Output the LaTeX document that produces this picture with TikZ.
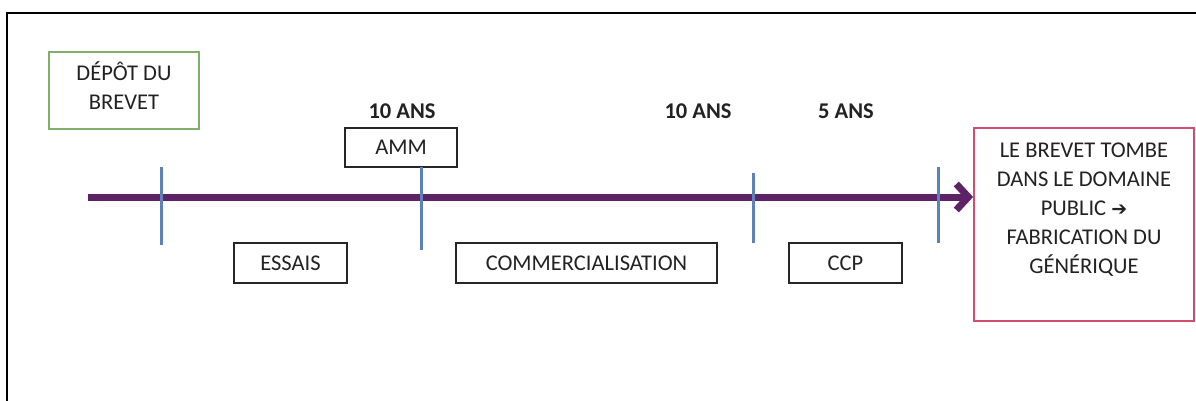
\documentclass[tikz,border=0pt]{standalone}
\usepackage{fontspec}
\setmainfont{Carlito}
\usetikzlibrary{arrows.meta}
\definecolor{purp}{HTML}{5E2266}
\definecolor{tickblue}{HTML}{5E82B8}
\definecolor{boxgreen}{HTML}{7FAF6A}
\definecolor{boxred}{HTML}{D24C6E}
\definecolor{txt}{HTML}{222222}
\begin{document}
\begin{tikzpicture}[x=1pt,y=-1pt,
  every node/.style={font=\fontsize{22.5}{29}\selectfont, text=txt},
  phase/.style={draw=black!85, line width=1.8pt, minimum height=40pt, inner sep=0pt},
  dur/.style={font=\fontsize{22.5}{29}\selectfont\bfseries},
  tickline/.style={draw=tickblue, line width=3pt},
  frameline/.style={draw=black, line width=2pt}]
\useasboundingbox (0,0) rectangle (1196,401);
\fill[white] (0,0) rectangle (1196,401);
% frame
\draw[frameline] (7,405) -- (7,13) -- (1200,13);
% boxes
\node[draw=boxgreen, line width=1.8pt, minimum width=150pt, minimum height=77pt, align=center, inner sep=0pt] (depot) at (124,90.5) {DÉPÔT DU\\BREVET\\[-20pt]\mbox{}};
\node[phase, minimum width=112pt, minimum height=39pt] (amm) at (401,147.5) {AMM};
\node[phase, minimum width=113pt] (essais) at (290.5,263) {ESSAIS};
\node[phase, minimum width=261pt] (comm) at (586.5,263) {COMMERCIALISATION};
\node[phase, minimum width=113pt] (ccp) at (845.5,263) {CCP};
\node[draw=boxred, line width=1.8pt, minimum width=220pt, minimum height=193pt, inner sep=0pt] (pubbox) at (1084,224.5) {};
\node[align=center, inner sep=0pt] (pub) at (1084,209.5) {LE BREVET TOMBE\\DANS LE DOMAINE\\PUBLIC {\fontspec{DejaVu Sans}\fontsize{19}{29}\selectfont\bfseries ➔}\\FABRICATION DU\\GÉNÉRIQUE};
% durations
\node[dur] (d1) at (402,111) {10 ANS};
\node[dur] (d2) at (698,111) {10 ANS};
\node[dur] (d3) at (846,111) {5 ANS};
% timeline
\coordinate (start) at (88,197);
\draw[draw=purp, line width=7pt, -{Straight Barb[length=12pt,width=26pt,line width=7pt]}] (start) -- (start -| pubbox.west);
% ticks
\coordinate (t1a) at (161,167); \coordinate (t1b) at (161,245);
\coordinate (t2a) at (421,167); \coordinate (t2b) at (421,250);
\coordinate (t3a) at (753,173); \coordinate (t3b) at (753,243);
\coordinate (t4a) at (938,167); \coordinate (t4b) at (938,243);
\draw[tickline] (t1a) -- (t1b);
\draw[tickline] (t2a) -- (t2b);
\draw[tickline] (t3a) -- (t3b);
\draw[tickline] (t4a) -- (t4b);
\end{tikzpicture}
\end{document}
